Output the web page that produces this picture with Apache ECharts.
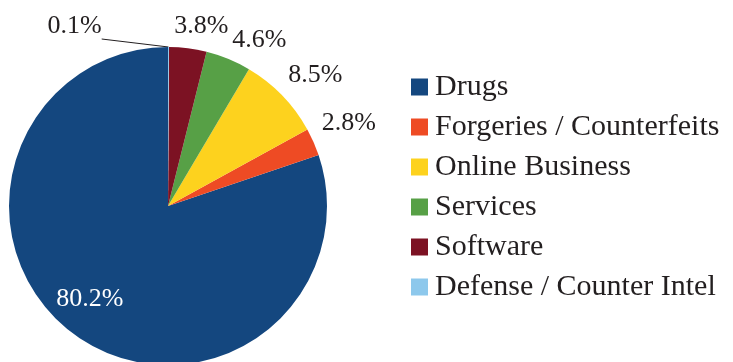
<!DOCTYPE html>
<html>
<head>
<meta charset="utf-8">
<script src="https://cdn.jsdelivr.net/npm/echarts@6/dist/echarts.min.js"></script>
<style>
  html, body { margin: 0; padding: 0; background: #fff; }
  #chart { width: 733px; height: 362px; }
</style>
</head>
<body>
<div id="chart"></div>
<script>
// Share of listings per category (percent)
const categories = ['Drugs', 'Forgeries / Counterfeits', 'Online Business', 'Services', 'Software', 'Defense / Counter Intel'];
const shares = [80.2, 2.8, 8.5, 4.6, 3.8, 0.1];
const colors = ['#14477f', '#ee4b24', '#fdd21e', '#57a046', '#7c1223', '#8dc8ec'];

const FONT = '"Liberation Serif", "DejaVu Serif", serif';

// small nudges applied to the library-placed value labels
const labelNudge = [[-30, 26], [-6, -15], [-6, -13], [-5, -9], [-20, -12], [-126, -11]];

const data = categories.map((name, i) => {
  const item = { name: name, value: shares[i], itemStyle: { color: colors[i] } };
  if (i === 0) {
    item.label = { position: 'inside', color: '#ffffff' };
  }
  if (i === 5) {
    item.labelLine = { show: true };
  }
  return item;
});

function placeLabel(p) {
  const [dx, dy] = labelNudge[p.dataIndex];
  const out = { dx: dx, dy: dy, hideOverlap: false };
  if (p.dataIndex === 5 && p.labelLinePoints) {
    // leader line from the slice edge to the lower right corner of the moved label
    const r = p.labelRect;
    out.labelLinePoints = [
      p.labelLinePoints[0],
      [r.x + r.width + dx, r.y + r.height + dy]
    ];
  }
  return out;
}

const chart = echarts.init(document.getElementById('chart'), null, { renderer: 'canvas' });
chart.setOption({
  animation: false,
  legend: {
    orient: 'vertical',
    left: 411,
    top: 72,
    padding: 0,
    itemWidth: 17,
    itemHeight: 17,
    itemGap: 10,
    icon: 'rect',
    textStyle: { fontFamily: FONT, fontSize: 30, color: '#231f20', padding: [0, 0, 0, 2] },
    data: categories
  },
  series: [{
    type: 'pie',
    center: [168, 206],
    radius: 159,
    startAngle: 90,
    clockwise: false,
    minAngle: 0,
    avoidLabelOverlap: false,
    itemStyle: { borderWidth: 0 },
    emphasis: { disabled: true },
    label: {
      show: true,
      position: 'outside',
      formatter: p => p.value.toFixed(1) + '%',
      fontFamily: FONT,
      fontSize: 26,
      color: '#231f20'
    },
    labelLine: { show: false, length: 10, length2: 0, lineStyle: { color: '#231f20', width: 1 } },
    labelLayout: placeLabel,
    data: data
  }]
});
</script>
</body>
</html>
